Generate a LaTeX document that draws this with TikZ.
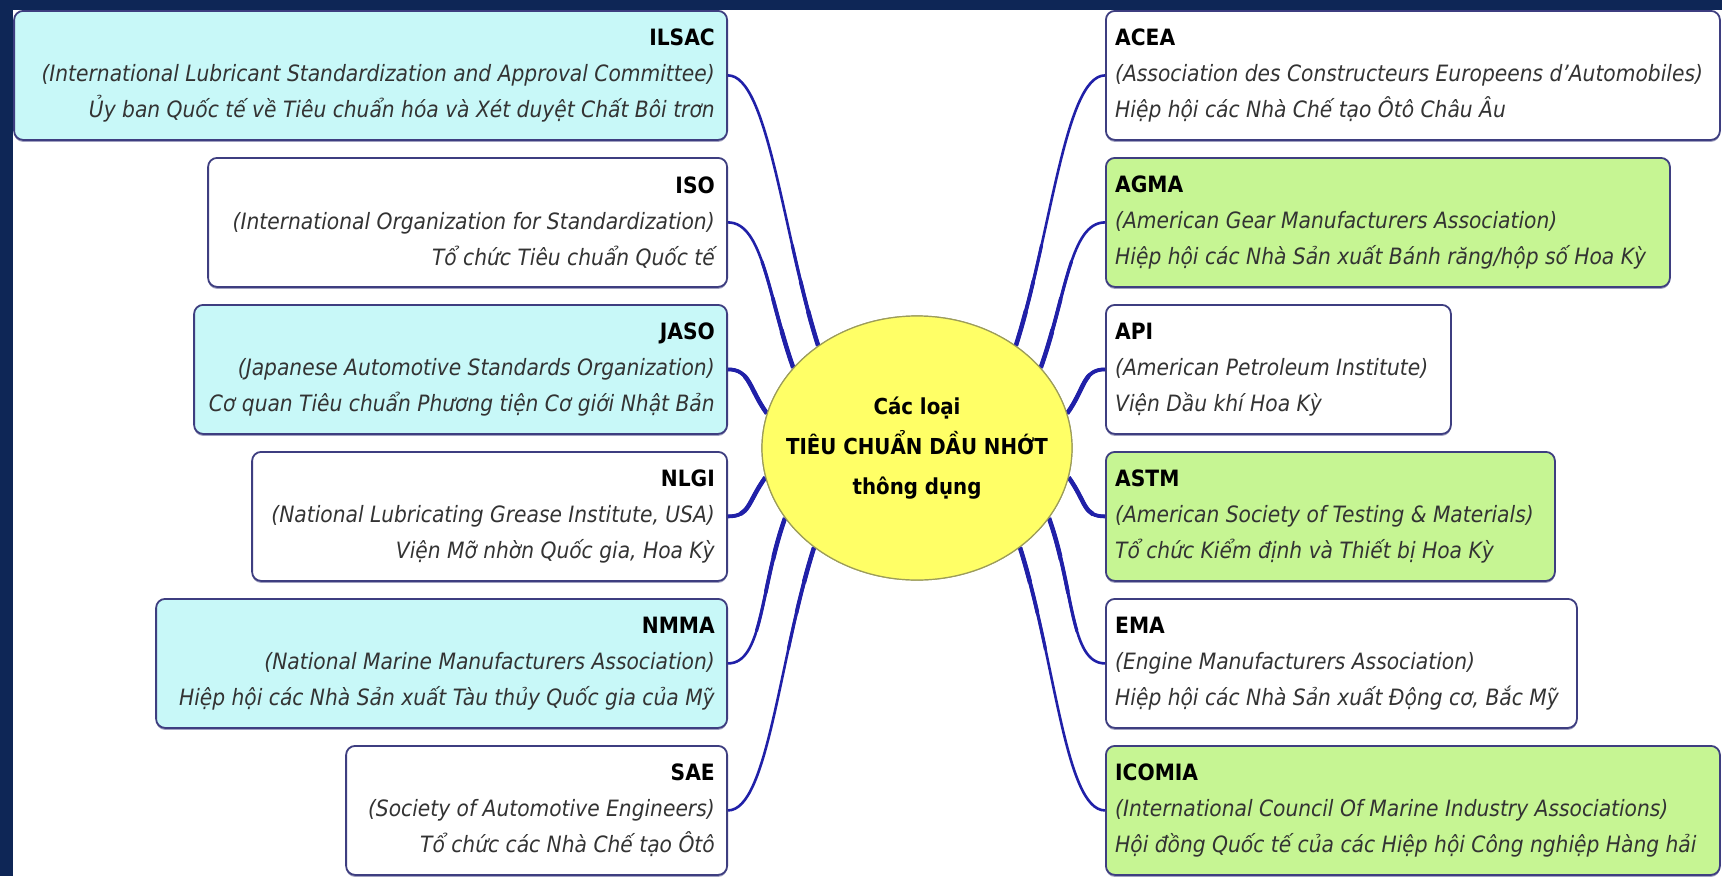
\documentclass[tikz,border=0pt]{standalone}
\usepackage{fontspec}
\setmainfont{DejaVu Sans Condensed}
\usetikzlibrary{shapes.geometric,shadows}
\definecolor{navy}{HTML}{0E2656}
\definecolor{cyanbox}{HTML}{C8F8F8}
\definecolor{greenbox}{HTML}{C6F593}
\definecolor{boxline}{HTML}{3E3E80}
\definecolor{linkblue}{HTML}{2020A8}
\definecolor{yel}{HTML}{FFFF66}
\definecolor{yelline}{HTML}{9C9C5A}
\definecolor{txt}{HTML}{333333}
\newcommand\drawlinks[1]{%
\draw[#1] (ilsac.east) .. controls +(40,0) and +(-35,-110) .. (root.134);
\draw[#1] (iso.east) .. controls +(35,0) and +(-25,-70) .. (root.147);
\draw[#1] (jaso.east) .. controls +(22,0) and +(-18,-25) .. (root.167);
\draw[#1] (nlgi.east) .. controls +(22,0) and +(-18,25) .. (root.191);
\draw[#1] (nmma.east) .. controls +(35,0) and +(-25,70) .. (root.208);
\draw[#1] (sae.east) .. controls +(40,0) and +(-35,110) .. (root.224);
\draw[#1] (acea.west) .. controls +(-40,0) and +(35,-110) .. (root.46);
\draw[#1] (agma.west) .. controls +(-35,0) and +(25,-70) .. (root.33);
\draw[#1] (api.west) .. controls +(-22,0) and +(18,-25) .. (root.13);
\draw[#1] (astm.west) .. controls +(-22,0) and +(18,25) .. (root.349);
\draw[#1] (ema.west) .. controls +(-35,0) and +(25,70) .. (root.332);
\draw[#1] (icomia.west) .. controls +(-40,0) and +(35,110) .. (root.316);}
\begin{document}
\begin{tikzpicture}[x=1pt,y=-1pt,
  bx/.style={draw=boxline, line width=1.8pt, rounded corners=9pt, inner sep=0pt,
    minimum height=129pt,
    drop shadow={shadow xshift=0pt, shadow yshift=-2pt, fill=boxline!70, opacity=0.7}},
  lbox/.style={bx, anchor=north east},
  rbox/.style={bx, anchor=north west},
  btxt/.style={inner sep=0pt, font=\fontsize{22.5}{36}\selectfont, text=txt},
  ltxt/.style={btxt, anchor=east, align=right},
  rtxt/.style={btxt, anchor=west, align=left},
  link/.style={draw=linkblue, line width=#1},
  root/.style={ellipse, draw=yelline, line width=1.2pt, fill=yel, minimum width=310pt,
    minimum height=264pt, inner sep=0pt},
  roottxt/.style={align=center, inner sep=0pt, font=\bfseries\fontsize{22}{40}\selectfont, text=black}
]
\useasboundingbox (0,0) rectangle (1722,876);
\fill[navy] (0,0) rectangle (1722,876);
\fill[white] (13,10) rectangle (1722,876);

% left boxes
\node[lbox, fill=cyanbox, minimum width=713pt] (ilsac) at (728,10) {};
\node[lbox, fill=white,   minimum width=519pt] (iso)   at (728,157) {};
\node[lbox, fill=cyanbox, minimum width=533pt] (jaso)  at (728,304) {};
\node[lbox, fill=white,   minimum width=475pt] (nlgi)  at (728,451) {};
\node[lbox, fill=cyanbox, minimum width=571pt] (nmma)  at (728,598) {};
\node[lbox, fill=white,   minimum width=381pt] (sae)   at (728,745) {};
% right boxes
\node[rbox, fill=white,    minimum width=614pt] (acea)   at (1105,10) {};
\node[rbox, fill=greenbox, minimum width=564pt] (agma)   at (1105,157) {};
\node[rbox, fill=white,    minimum width=345pt] (api)    at (1105,304) {};
\node[rbox, fill=greenbox, minimum width=449pt] (astm)   at (1105,451) {};
\node[rbox, fill=white,    minimum width=471pt] (ema)    at (1105,598) {};
\node[rbox, fill=greenbox, minimum width=614pt] (icomia) at (1105,745) {};

% left texts
\node[ltxt] (ilsac-t) at ([xshift=-13pt]ilsac.east)
  {{\bfseries\color{black}ILSAC}\\ \itshape (International Lubricant Standardization and Approval Committee)\\ \itshape Ủy ban Quốc tế về Tiêu chuẩn hóa và Xét duyệt Chất Bôi trơn};
\node[ltxt] (iso-t) at ([xshift=-13pt]iso.east)
  {{\bfseries\color{black}ISO}\\ \itshape (International Organization for Standardization)\\ \itshape Tổ chức Tiêu chuẩn Quốc tế};
\node[ltxt] (jaso-t) at ([xshift=-13pt]jaso.east)
  {{\bfseries\color{black}JASO}\\ \itshape (Japanese Automotive Standards Organization)\\ \itshape Cơ quan Tiêu chuẩn Phương tiện Cơ giới Nhật Bản};
\node[ltxt] (nlgi-t) at ([xshift=-13pt]nlgi.east)
  {{\bfseries\color{black}NLGI}\\ \itshape (National Lubricating Grease Institute, USA)\\ \itshape Viện Mỡ nhờn Quốc gia, Hoa Kỳ};
\node[ltxt] (nmma-t) at ([xshift=-13pt]nmma.east)
  {{\bfseries\color{black}NMMA}\\ \itshape (National Marine Manufacturers Association)\\ \itshape Hiệp hội các Nhà Sản xuất Tàu thủy Quốc gia của Mỹ};
\node[ltxt] (sae-t) at ([xshift=-13pt]sae.east)
  {{\bfseries\color{black}SAE}\\ \itshape (Society of Automotive Engineers)\\ \itshape Tổ chức các Nhà Chế tạo Ôtô};
% right texts
\node[rtxt] (acea-t) at ([xshift=10pt]acea.west)
  {{\bfseries\color{black}ACEA}\\ \itshape (Association des Constructeurs Europeens d'Automobiles)\\ \itshape Hiệp hội các Nhà Chế tạo Ôtô Châu Âu};
\node[rtxt] (agma-t) at ([xshift=10pt]agma.west)
  {{\bfseries\color{black}AGMA}\\ \itshape (American Gear Manufacturers Association)\\ \itshape Hiệp hội các Nhà Sản xuất Bánh răng/hộp số Hoa Kỳ};
\node[rtxt] (api-t) at ([xshift=10pt]api.west)
  {{\bfseries\color{black}API}\\ \itshape (American Petroleum Institute)\\ \itshape Viện Dầu khí Hoa Kỳ};
\node[rtxt] (astm-t) at ([xshift=10pt]astm.west)
  {{\bfseries\color{black}ASTM}\\ \itshape (American Society of Testing \& Materials)\\ \itshape Tổ chức Kiểm định và Thiết bị Hoa Kỳ};
\node[rtxt] (ema-t) at ([xshift=10pt]ema.west)
  {{\bfseries\color{black}EMA}\\ \itshape (Engine Manufacturers Association)\\ \itshape Hiệp hội các Nhà Sản xuất Động cơ, Bắc Mỹ};
\node[rtxt] (icomia-t) at ([xshift=10pt]icomia.west)
  {{\bfseries\color{black}ICOMIA}\\ \itshape (International Council Of Marine Industry Associations)\\ \itshape Hội đồng Quốc tế của các Hiệp hội Công nghiệp Hàng hải};

% root
\node[root] (root) at (917,448) {};

% connectors, growing thicker towards the centre
\drawlinks{link=2.6pt}
\begin{scope}
  \clip (917,448) ellipse (265 and 230);
  \drawlinks{link=3.2pt}
\end{scope}
\begin{scope}
  \clip (917,448) ellipse (225 and 195);
  \drawlinks{link=3.8pt}
\end{scope}
\begin{scope}
  \clip (917,448) ellipse (192 and 166);
  \drawlinks{link=4.5pt}
\end{scope}
\node[root] (root-front) at (917,448) {};
\node[roottxt] (root-t) at (root-front.center) {Các loại\\ TIÊU CHUẨN DẦU NHỚT\\ thông dụng};
\end{tikzpicture}
\end{document}
